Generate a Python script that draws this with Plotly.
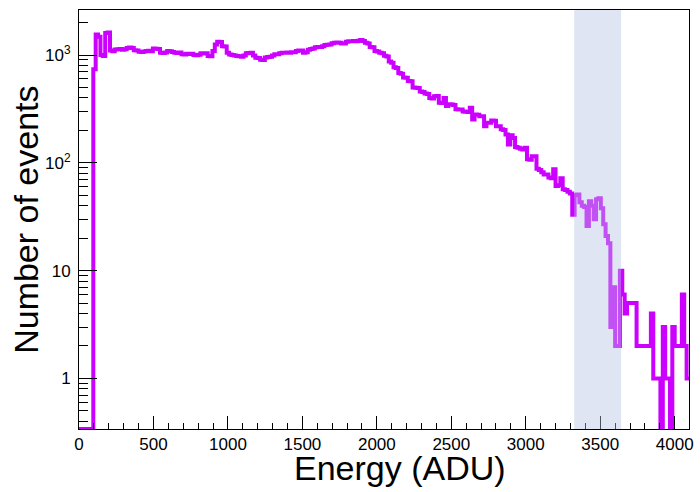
import plotly.graph_objects as go

# Histogram: 256 bins of 16 ADU over 0..4096
bin_width = 16
n_bins = 256
counts = [
    0, 0, 0, 0, 0, 0, 740, 1550, 1480, 1000,
    980, 1600, 1620, 1100, 1085, 1125, 1130, 1140, 1120, 1135,
    1165, 1175, 1160, 1110, 1100, 1075, 1070, 1080, 1090, 1095,
    1085, 1150, 1145, 1140, 1050, 1045, 1055, 1090, 1085, 1070,
    1050, 1045, 1055, 1015, 1010, 1030, 1025, 1030, 1000, 995,
    1005, 1040, 1035, 1040, 980, 975, 1090, 1250, 1330, 1320,
    1210, 1200, 1050, 1010, 1000, 990, 980, 975, 965, 990,
    1040, 1045, 1050, 990, 945, 940, 905, 900, 950, 960,
    965, 990, 1015, 1020, 1040, 1050, 1050, 1055, 1050, 1060,
    1060, 1090, 1105, 1100, 1050, 1060, 1120, 1140, 1150, 1180,
    1190, 1190, 1210, 1240, 1245, 1250, 1290, 1300, 1310, 1300,
    1280, 1280, 1330, 1340, 1345, 1350, 1345, 1360, 1380, 1350,
    1300, 1280, 1190, 1180, 1090, 1080, 1050, 1040, 985, 970,
    870, 850, 770, 760, 680, 670, 620, 615, 575, 570,
    500, 497, 495, 460, 455, 440, 435, 400, 395, 415,
    418, 362, 360, 400, 336, 350, 348, 345, 315, 312,
    313, 300, 298, 296, 325, 252, 281, 280, 271, 270,
    219, 235, 236, 247, 246, 219, 218, 205, 202, 183,
    148, 180, 170, 140, 138, 135, 133, 138, 108, 107,
    115, 115, 88, 86, 82, 78, 78, 73, 72, 87,
    61, 62, 72, 57, 56, 54, 52, 33, 50, 51,
    43, 40, 39, 26, 44, 40, 30, 46, 47, 38,
    27, 21, 18, 3, 7, 2, 2, 10, 6, 4,
    5, 5, 5, 5, 2, 2, 2, 2, 2, 2,
    4, 1, 1, 1, 0, 3, 1, 1, 0, 3,
    2, 2, 2, 6, 2, 1,
]
band_range = [3325, 3640]
x_title = "Energy (ADU)"
y_title = "Number of events"
x_tickvals = [0, 500, 1000, 1500, 2000, 2500, 3000, 3500, 4000]
y_tickvals = [1, 10, 100, 1000]
y_ticktext = ["1", "10", "10<sup>2</sup>", "10<sup>3</sup>"]

log_range = [-0.469, 3.418]
floor = 10 ** log_range[0]

edges = [i * bin_width for i in range(n_bins + 1)]
yvals = [c if c > 0 else floor for c in counts]
yvals = yvals + [yvals[-1]]

y_minor = []
for dec in [0.1, 1, 10, 100, 1000]:
    for m in range(2, 10):
        v = m * dec
        if floor < v < 10 ** log_range[1]:
            y_minor.append(v)

FONT = "Liberation Sans, Arial, Helvetica, sans-serif"

fig = go.Figure()
fig.add_trace(go.Scatter(
    x=edges, y=yvals, mode="lines", line_shape="hv",
    line=dict(color="#cc00ff", width=4), showlegend=False, hoverinfo="skip",
))

fig.add_shape(type="rect", xref="x", yref="paper",
              x0=band_range[0], x1=band_range[1], y0=0, y1=1,
              fillcolor="rgba(180,194,226,0.42)", line=dict(width=0), layer="above")

fig.update_xaxes(
    range=[0, 4096], showline=True, linecolor="black", linewidth=1, mirror=True,
    ticks="inside", ticklen=13, tickwidth=1, tickcolor="black",
    tickmode="array", tickvals=x_tickvals,
    minor=dict(ticks="inside", ticklen=6, tickwidth=1, tickcolor="black", dtick=100, showgrid=False),
    showgrid=False, zeroline=False,
    tickfont=dict(family=FONT, size=17, color="black"),
)
fig.update_yaxes(
    type="log", range=log_range, showline=True, linecolor="black", linewidth=1, mirror=True,
    ticks="inside", ticklen=18, tickwidth=1, tickcolor="black",
    tickmode="array", tickvals=y_tickvals, ticktext=y_ticktext,
    minor=dict(ticks="inside", ticklen=9, tickwidth=1, tickcolor="black",
               tickmode="array", tickvals=y_minor, showgrid=False),
    showgrid=False, zeroline=False,
    tickfont=dict(family=FONT, size=17, color="black"),
    ticklabelstandoff=4,
)

fig.add_annotation(text=x_title, xref="paper", yref="paper", x=0.526, y=-0.092,
                   xanchor="center", yanchor="middle", showarrow=False,
                   font=dict(family=FONT, size=34, color="black"))
fig.add_annotation(text=y_title, xref="paper", yref="paper", x=-0.088, y=0.5,
                   xanchor="center", yanchor="middle", showarrow=False, textangle=-90,
                   font=dict(family=FONT, size=34, color="black"))

fig.update_layout(
    width=700, height=492,
    margin=dict(l=79, r=6, t=10, b=63),
    paper_bgcolor="white", plot_bgcolor="white",
)

fig.write_html("out.html")
